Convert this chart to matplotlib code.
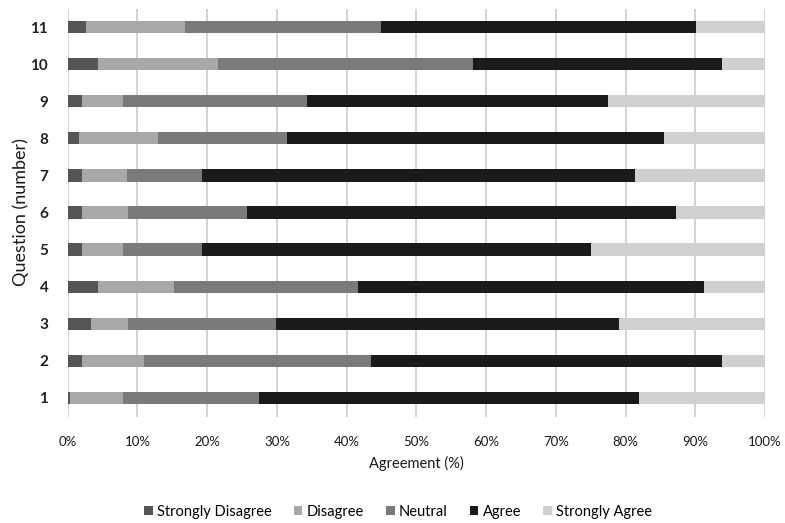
import matplotlib
matplotlib.use("Agg")
import matplotlib.pyplot as plt
import numpy as np

questions = ["1", "2", "3", "4", "5", "6", "7", "8", "9", "10", "11"]
categories = ["Strongly Disagree", "Disagree", "Neutral", "Agree", "Strongly Agree"]
strongly_disagree = [0.3, 2.1, 3.4, 4.4, 2.1, 2.1, 2.1, 1.6, 2.1, 4.4, 2.6]
disagree = [7.6, 8.9, 5.3, 10.8, 5.8, 6.6, 6.4, 11.4, 5.8, 17.1, 14.2]
neutral = [19.6, 32.5, 21.2, 26.5, 11.3, 17.0, 10.7, 18.5, 26.4, 36.6, 28.2]
agree = [54.4, 50.4, 49.1, 49.5, 55.9, 61.6, 62.1, 54.0, 43.2, 35.8, 45.1]
strongly_agree = [18.1, 6.1, 21.0, 8.8, 24.9, 12.7, 18.7, 14.5, 22.5, 6.1, 9.9]
colors = ["#555555", "#a8a8a8", "#7a7a7a", "#1a1a1a", "#d0d0d0"]

plt.rcParams['font.family'] = ['Lato', 'DejaVu Sans']

fig = plt.figure(figsize=(7.85, 5.23), dpi=100)
ax = fig.add_axes([67.7/785, 1 - 416.5/523, (765 - 67.7)/785, (416.5 - 8.5)/523])

series = [strongly_disagree, disagree, neutral, agree, strongly_agree]
y = np.arange(len(questions))
left = np.zeros(len(questions))
for name, vals, c in zip(categories, series, colors):
    v = np.array(vals)
    ax.barh(y, v, left=left, height=0.33, color=c, label=name, zorder=3)
    left += v

ax.set_xlim(0, 100)
ax.set_ylim(-0.5, len(questions) - 0.5)
ax.set_yticks(y)
ax.set_yticklabels(questions, fontsize=11, fontweight='bold', color='#222222')
ax.set_xticks(np.arange(0, 101, 10))
ax.set_xticklabels([f"{t}%" for t in range(0, 101, 10)], fontsize=9.5, color='#1a1a1a')
ax.tick_params(axis='y', length=0, pad=14)
ax.tick_params(axis='x', length=0, pad=14)
ax.grid(axis='x', color='#cccccc', linewidth=1.2, zorder=0)
for s in ax.spines.values():
    s.set_visible(False)

ax.set_xlabel("Agreement (%)", fontsize=10.5, color='#1a1a1a', labelpad=6)
ax.set_ylabel("Question (number)", fontsize=13, color='#1a1a1a')
ax.yaxis.set_label_coords(-0.055, 0.5)

leg = fig.legend(loc='center', bbox_to_anchor=(398/785, 1 - 512/523), ncol=5, frameon=False,
                 fontsize=10.5, handlelength=0.6, handleheight=0.6, handletextpad=0.3,
                 columnspacing=1.5)

fig.savefig("out.png", dpi=100)
